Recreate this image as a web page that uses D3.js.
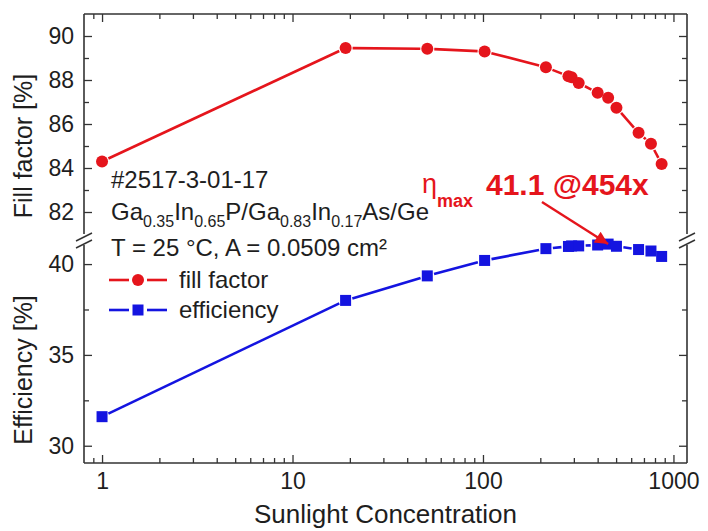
<!DOCTYPE html>
<html>
<head>
<meta charset="utf-8">
<script src="https://cdn.jsdelivr.net/npm/d3@7"></script>
<style>
  body { margin: 0; background: #fff; }
  text { font-family: "Liberation Sans", Arial, sans-serif; fill: #1e1e1e; }
</style>
</head>
<body>
<div id="chart"></div>
<script>
// data
const concentration = [1, 19, 51, 102, 214, 281, 292, 318, 400, 454, 502, 656, 762, 867];
const fillFactor = [84.3, 89.45, 89.42, 89.3, 88.58, 88.17, 88.12, 87.86, 87.42, 87.19, 86.74, 85.6, 85.1, 84.18];
const efficiency = [31.6, 38.0, 39.35, 40.2, 40.85, 40.97, 41.0, 41.0, 41.05, 41.1, 40.98, 40.8, 40.72, 40.42];
const xTicks = [1, 10, 100, 1000];
const ffTicks = [82, 84, 86, 88, 90];
const ffMinor = [83, 85, 87, 89];
const effTicks = [30, 35, 40];
const effMinor = [32.5, 37.5];

const red = "#e5151c", blue = "#1414e0", axisCol = "#333";

const svg = d3.select("#chart").append("svg").attr("width", 708).attr("height", 531);
var margin = { top: 14, right: 21, bottom: 68, left: 84 },
  width = 708 - margin.left - margin.right,
  height = 531 - margin.top - margin.bottom;
const g = svg.append("g").attr("transform", `translate(${margin.left},${margin.top})`);

// panels: top = fill factor, bottom = efficiency, small break between
const topH = 220, botY0 = 231;
var x = d3.scaleLog().domain([0.804, 1178]).range([0, width]);
var yTop = d3.scaleLinear().domain([81, 91]).range([topH, 0]);
var yBot = d3.scaleLinear().domain([29.05, 41.05]).range([height, botY0]);

// minor log ticks
var xMinor = [];
[0.1, 1, 10, 100].forEach((d) => {
  for (let k = 2; k <= 9; k++) {
    let v = d * k;
    if (v >= x.domain()[0] && v < 1000) xMinor.push(v);
  }
});

function styleAxis(sel) {
  sel.select(".domain").remove();
  sel.selectAll("line").attr("stroke", axisCol).attr("stroke-width", 1.3);
  sel.selectAll("text").attr("font-size", 23).attr("fill", "#1e1e1e")
    .style("font-family", '"Liberation Sans", Arial, sans-serif');
}

// x axes (bottom labelled, top mirrored)
g.append("g").attr("transform", `translate(0,${height})`)
  .call(d3.axisBottom(x).tickValues(xTicks).tickFormat(d3.format("d")).tickSize(-8).tickPadding(10))
  .call(styleAxis);
g.append("g").attr("transform", `translate(0,${height})`)
  .call(d3.axisBottom(x).tickValues(xMinor).tickFormat("").tickSize(-5))
  .call(styleAxis);
g.append("g")
  .call(d3.axisTop(x).tickValues(xTicks).tickFormat("").tickSize(-8))
  .call(styleAxis);
g.append("g")
  .call(d3.axisTop(x).tickValues(xMinor).tickFormat("").tickSize(-5))
  .call(styleAxis);

// y axes, both panels, left labelled, right mirrored
[[yTop, ffTicks, ffMinor], [yBot, effTicks, effMinor]].forEach(([sc, maj, mn]) => {
  g.append("g").call(d3.axisLeft(sc).tickValues(maj).tickSize(-8).tickPadding(10)).call(styleAxis);
  g.append("g").call(d3.axisLeft(sc).tickValues(mn).tickFormat("").tickSize(-5)).call(styleAxis);
  g.append("g").attr("transform", `translate(${width},0)`)
    .call(d3.axisRight(sc).tickValues(maj).tickFormat("").tickSize(-8)).call(styleAxis);
  g.append("g").attr("transform", `translate(${width},0)`)
    .call(d3.axisRight(sc).tickValues(mn).tickFormat("").tickSize(-5)).call(styleAxis);
});

// frame with axis breaks
const frame = g.append("g").attr("stroke", axisCol).attr("stroke-width", 1.6).attr("fill", "none");
frame.append("line").attr("x1", 0).attr("x2", width).attr("y1", 0).attr("y2", 0);
frame.append("line").attr("x1", 0).attr("x2", width).attr("y1", height).attr("y2", height);
[0, width].forEach((xx) => {
  frame.append("line").attr("x1", xx).attr("x2", xx).attr("y1", 0).attr("y2", topH);
  frame.append("line").attr("x1", xx).attr("x2", xx).attr("y1", botY0).attr("y2", height);
  [topH + 3, topH + 10].forEach((yy) => {
    frame.append("line").attr("stroke-width", 1.5)
      .attr("x1", xx - 8).attr("y1", yy + 4).attr("x2", xx + 8).attr("y2", yy - 4);
  });
});

// line segments leaving a gap round each symbol
function gapped(pts, gap) {
  var segs = [];
  for (let i = 1; i < pts.length; i++) {
    let [x1, y1] = pts[i - 1], [x2, y2] = pts[i];
    let dx = x2 - x1, dy = y2 - y1, len = Math.hypot(dx, dy);
    if (len <= 2 * gap) continue;
    let ux = dx / len, uy = dy / len;
    segs.push([x1 + ux * gap, y1 + uy * gap, x2 - ux * gap, y2 - uy * gap]);
  }
  return segs;
}

var ffPts = concentration.map((c, i) => [x(c), yTop(fillFactor[i])]);
var effPts = concentration.map((c, i) => [x(c), yBot(efficiency[i])]);

g.selectAll(".ffseg").data(gapped(ffPts, 7)).enter().append("line")
  .attr("class", "ffseg").attr("stroke", red).attr("stroke-width", 2.6)
  .attr("x1", (d) => d[0]).attr("y1", (d) => d[1]).attr("x2", (d) => d[2]).attr("y2", (d) => d[3]);
g.selectAll(".ffdot").data(ffPts).enter().append("circle")
  .attr("class", "ffdot").attr("fill", red).attr("r", 6)
  .attr("cx", (d) => d[0]).attr("cy", (d) => d[1]);

g.selectAll(".effseg").data(gapped(effPts, 7)).enter().append("line")
  .attr("class", "effseg").attr("stroke", blue).attr("stroke-width", 2.6)
  .attr("x1", (d) => d[0]).attr("y1", (d) => d[1]).attr("x2", (d) => d[2]).attr("y2", (d) => d[3]);
g.selectAll(".effsq").data(effPts).enter().append("rect")
  .attr("class", "effsq").attr("fill", blue).attr("width", 11).attr("height", 11)
  .attr("x", (d) => d[0] - 5.5).attr("y", (d) => d[1] - 5.5);

// axis titles
svg.append("text").attr("x", margin.left + width / 2).attr("y", 523)
  .attr("text-anchor", "middle").attr("font-size", 26).text("Sunlight Concentration");
svg.append("text").attr("transform", "translate(32,146) rotate(-90)")
  .attr("text-anchor", "middle").attr("font-size", 25).text("Fill factor [%]");
svg.append("text").attr("transform", "translate(32,370) rotate(-90)")
  .attr("text-anchor", "middle").attr("font-size", 25).text("Efficiency [%]");

// sample info
svg.append("text").attr("x", 111).attr("y", 188).attr("font-size", 24).text("#2517-3-01-17");
var comp = svg.append("text").attr("x", 111).attr("y", 220).attr("font-size", 24);
[["Ga", 0], ["0.35", 1], ["In", 0], ["0.65", 1], ["P/Ga", 0], ["0.83", 1], ["In", 0], ["0.17", 1], ["As/Ge", 0]]
  .forEach(([t, sub], i, arr) => {
    let prevSub = i > 0 ? arr[i - 1][1] : 0;
    comp.append("tspan").attr("font-size", sub ? 16 : 24)
      .attr("dy", sub === prevSub ? 0 : (sub ? 7 : -7)).text(t);
  });
svg.append("text").attr("x", 111).attr("y", 256).attr("font-size", 24).text("T = 25 °C, A = 0.0509 cm²");

// legend
var legend = [["fill factor", red, "circle"], ["efficiency", blue, "square"]];
var lg = svg.selectAll(".legend").data(legend).enter().append("g")
  .attr("class", "legend").attr("transform", (d, i) => `translate(0,${280 + i * 30})`);
lg.append("line").attr("x1", 109).attr("x2", 129).attr("stroke", (d) => d[1]).attr("stroke-width", 2.6);
lg.append("line").attr("x1", 147).attr("x2", 167).attr("stroke", (d) => d[1]).attr("stroke-width", 2.6);
lg.filter((d) => d[2] === "circle").append("circle").attr("cx", 138).attr("r", 6).attr("fill", red);
lg.filter((d) => d[2] === "square").append("rect").attr("x", 132.5).attr("y", -5.5)
  .attr("width", 11).attr("height", 11).attr("fill", blue);
lg.append("text").attr("x", 179).attr("dy", "0.35em").attr("font-size", 24).text((d) => d[0]);

// eta max annotation
var eta = svg.append("text").attr("x", 422).attr("y", 193).style("fill", red);
eta.append("tspan").attr("font-size", 27).text("η");
eta.append("tspan").attr("font-size", 18).attr("font-weight", "bold").attr("dy", 14).text("max");
svg.append("text").attr("x", 486).attr("y", 195).attr("font-size", 30).attr("font-weight", "bold")
  .style("fill", red).text("41.1 @454x");

svg.append("defs").append("marker").attr("id", "head").attr("viewBox", "0 0 10 10")
  .attr("refX", 10).attr("refY", 5).attr("markerWidth", 19).attr("markerHeight", 13)
  .attr("markerUnits", "userSpaceOnUse").attr("orient", "auto")
  .append("path").attr("d", "M0,0L10,5L0,10Z").attr("fill", red);
g.append("line").attr("stroke", red).attr("stroke-width", 2.4)
  .attr("x1", x(204)).attr("y1", yTop(82.45))
  .attr("x2", x(454)).attr("y2", yBot(41.1))
  .attr("marker-end", "url(#head)");
</script>
</body>
</html>
